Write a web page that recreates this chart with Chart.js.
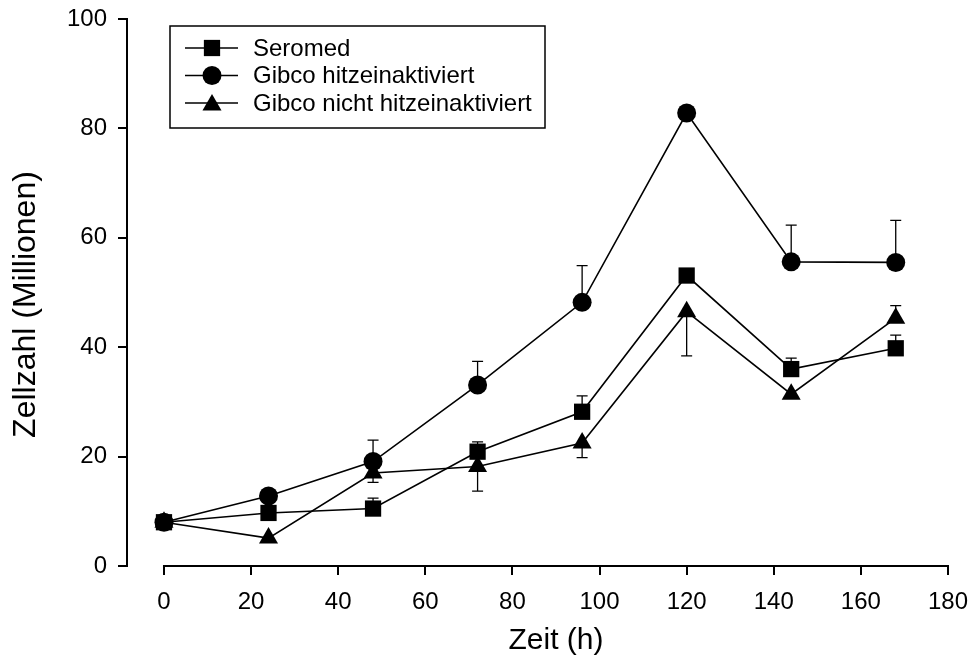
<!DOCTYPE html>
<html lang="de">
<head>
  <meta charset="UTF-8">
  <title>Zellzahl</title>
  <style>
    body { margin: 0; background: #fff; }
    canvas { display: block; }
  </style>
</head>
<body>
  <canvas id="chart" width="972" height="659"></canvas>

  <script src="https://cdn.jsdelivr.net/npm/chart.js"></script>
  <script>
    const hours = [0, 24, 48, 72, 96, 120, 144, 168];
    const xTicks = [0, 20, 40, 60, 80, 100, 120, 140, 160, 180];
    const yTicks = [0, 20, 40, 60, 80, 100];

    const seromed = [8.0, 9.7, 10.5, 20.9, 28.2, 53.1, 36.0, 39.8];
    const seromedUp = [0, 0, 1.9, 1.8, 2.9, 0, 2.0, 2.4];
    const seromedDown = [0, 0, 0, 0, 0, 0, 0, 0];

    const gibcoHitze = [8.0, 12.8, 19.1, 33.1, 48.2, 82.8, 55.6, 55.5];
    const gibcoHitzeUp = [0, 0, 3.9, 4.3, 6.7, 0, 6.7, 7.7];
    const gibcoHitzeDown = [0, 0, 0, 0, 0, 0, 0, 0];

    const gibcoNicht = [8.0, 5.1, 17.0, 18.2, 22.5, 46.5, 31.4, 45.3];
    const gibcoNichtUp = [0, 0, 0, 0, 0, 0, 0, 2.3];
    const gibcoNichtDown = [0, 0, 1.7, 4.5, 2.7, 8.1, 0, 0];

    const xTitle = 'Zeit (h)';
    const yTitle = 'Zellzahl (Millionen)';

    const FONT = "Arial, 'Liberation Sans', sans-serif";

    function toPoints(values) {
      return hours.map((h, i) => ({ x: h, y: values[i] }));
    }

    function marker(ctx, style, x, y, r) {
      ctx.beginPath();
      if (style === 'rect') {
        const s = r * Math.SQRT1_2;
        ctx.rect(x - s, y - s, 2 * s, 2 * s);
      } else if (style === 'triangle') {
        for (let k = 0; k < 3; k++) {
          const a = k * 2 * Math.PI / 3;
          const px = x + Math.sin(a) * r, py = y - Math.cos(a) * r;
          k ? ctx.lineTo(px, py) : ctx.moveTo(px, py);
        }
        ctx.closePath();
      } else {
        ctx.arc(x, y, r, 0, Math.PI * 2);
      }
      ctx.fill();
    }

    // error bars, drawn below the markers
    const errorBars = {
      id: 'errorBars',
      beforeDatasetsDraw(chart) {
        const ctx = chart.ctx;
        const yScale = chart.scales.y;
        ctx.save();
        ctx.strokeStyle = '#000';
        ctx.lineWidth = 1.3;
        chart.data.datasets.forEach((ds, di) => {
          const meta = chart.getDatasetMeta(di);
          meta.data.forEach((pt, i) => {
            const v = ds.data[i].y;
            [[ds.errUp[i], 1], [ds.errDown[i], -1]].forEach(([e, dir]) => {
              if (!e) return;
              const yEnd = yScale.getPixelForValue(v + dir * e);
              ctx.beginPath();
              ctx.moveTo(pt.x, pt.y);
              ctx.lineTo(pt.x, yEnd);
              ctx.moveTo(pt.x - 5.5, yEnd);
              ctx.lineTo(pt.x + 5.5, yEnd);
              ctx.stroke();
            });
          });
        });
        ctx.restore();
      }
    };

    // x axis line only from 0 to 180, axis titles, boxed legend
    const axisAndLegend = {
      id: 'axisAndLegend',
      afterDraw(chart) {
        const ctx = chart.ctx;
        const xs = chart.scales.x;
        const ys = chart.scales.y;
        const yB = chart.chartArea.bottom;
        const x0 = xs.getPixelForValue(xTicks[0]);
        const x1 = xs.getPixelForValue(xTicks[xTicks.length - 1]);
        ctx.save();
        ctx.strokeStyle = '#000';
        ctx.fillStyle = '#000';
        ctx.lineWidth = 2;
        ctx.beginPath();
        ctx.moveTo(x0 - 1, yB);
        ctx.lineTo(x1 + 1, yB);
        ctx.stroke();

        // titles
        ctx.textAlign = 'center';
        ctx.textBaseline = 'middle';
        ctx.font = '30px ' + FONT;
        ctx.fillText(xTitle, (x0 + x1) / 2, 641);
        ctx.save();
        ctx.translate(26, (ys.top + ys.bottom) / 2 + 12);
        ctx.rotate(-Math.PI / 2);
        ctx.font = '32px ' + FONT;
        ctx.fillText(yTitle, 0, 0);
        ctx.restore();

        // legend
        ctx.textAlign = 'left';
        ctx.lineWidth = 1.5;
        ctx.strokeRect(170, 26, 375, 102);
        ctx.font = '24px ' + FONT;
        chart.data.datasets.forEach((ds, i) => {
          const y = 48 + i * 27.5;
          ctx.beginPath();
          ctx.moveTo(185, y);
          ctx.lineTo(238, y);
          ctx.stroke();
          marker(ctx, ds.pointStyle, 212, ds.pointStyle === 'triangle' ? y + 2 : y, ds.pointRadius);
          ctx.fillText(ds.label, 253, y + 1);
        });
        ctx.restore();
      }
    };

    function series(label, values, up, down, style, radius) {
      return {
        label: label,
        data: toPoints(values),
        errUp: up,
        errDown: down,
        borderColor: '#000',
        borderWidth: 1.6,
        backgroundColor: '#000',
        pointBackgroundColor: '#000',
        pointBorderColor: '#000',
        pointBorderWidth: 0,
        pointStyle: style,
        pointRadius: radius,
        pointHoverRadius: radius,
        tension: 0,
        fill: false
      };
    }

    const ctx = document.getElementById('chart').getContext('2d');
    new Chart(ctx, {
      type: 'line',
      data: {
        datasets: [
          series('Seromed', seromed, seromedUp, seromedDown, 'rect', 11.5),
          series('Gibco hitzeinaktiviert', gibcoHitze, gibcoHitzeUp, gibcoHitzeDown, 'circle', 9.5),
          series('Gibco nicht hitzeinaktiviert', gibcoNicht, gibcoNichtUp, gibcoNichtDown, 'triangle', 11)
        ]
      },
      options: {
        responsive: false,
        animation: false,
        layout: { padding: { left: 0, top: 19, right: 24, bottom: 0 } },
        plugins: {
          legend: { display: false },
          tooltip: { enabled: false }
        },
        scales: {
          x: {
            type: 'linear',
            min: -8.49,
            max: 180,
            afterBuildTicks: (s) => { s.ticks = xTicks.map(v => ({ value: v })); },
            afterFit: (s) => { s.height = 93; s.paddingLeft = 0; s.paddingRight = 0; },
            border: { display: false },
            grid: {
              drawOnChartArea: false,
              drawTicks: true,
              tickLength: 9,
              color: '#000',
              lineWidth: 2
            },
            ticks: {
              color: '#000',
              padding: 13,
              maxRotation: 0,
              autoSkip: false,
              font: { family: FONT, size: 24 }
            }
          },
          y: {
            min: 0,
            max: 100,
            afterBuildTicks: (s) => { s.ticks = yTicks.map(v => ({ value: v })); },
            afterFit: (s) => { s.width = 127; s.paddingTop = 0; s.paddingBottom = 0; },
            border: { display: true, color: '#000', width: 2 },
            grid: {
              drawOnChartArea: false,
              drawTicks: true,
              tickLength: 9,
              color: '#000',
              lineWidth: 2
            },
            ticks: {
              color: '#000',
              padding: 11,
              font: { family: FONT, size: 24 }
            }
          }
        }
      },
      plugins: [errorBars, axisAndLegend]
    });
  </script>
</body>
</html>
